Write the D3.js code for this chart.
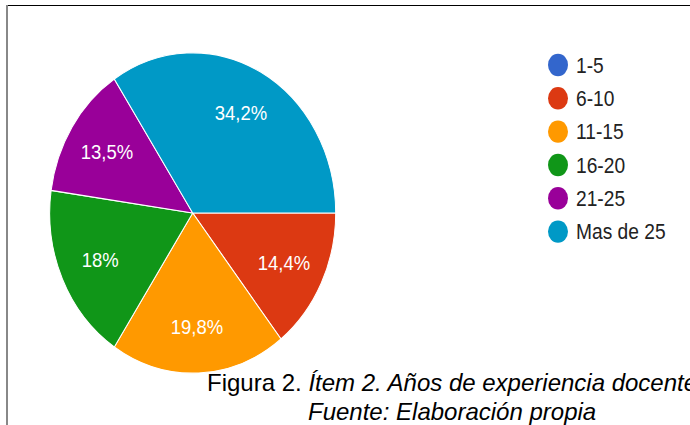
<!DOCTYPE html>
<html>
<head>
<meta charset="utf-8">
<script src="https://cdn.jsdelivr.net/npm/d3@7"></script>
<style>
  html, body { margin: 0; padding: 0; background: #fff; overflow: hidden; }
  text { font-family: Arial, "Liberation Sans", sans-serif; }
</style>
</head>
<body>
<svg id="chart" width="690" height="425"></svg>
<script>
var categories = ["1-5", "6-10", "11-15", "16-20", "21-25", "Mas de 25"];
var values = [0, 14.4, 19.8, 18, 13.5, 34.2];
var labels = ["", "14,4%", "19,8%", "18%", "13,5%", "34,2%"];
var colors = ["#3366cc", "#dc3912", "#ff9900", "#109618", "#990099", "#0099c6"];
var captionLine1 = "Figura 2. ";
var captionLine1Italic = "Ítem 2. Años de experiencia docente";
var captionLine2 = "Fuente: Elaboración propia";

function drawPie() {
    var width = 690, height = 425,
        stretch = 1.12,              // picture is stretched vertically
        radius = 143,
        cx = 192.7, cy = 213 / stretch;

    var svg = d3.select("#chart");

    // frame
    svg.append("line")
        .attr("x1", 6).attr("x2", width)
        .attr("y1", 5.5).attr("y2", 5.5)
        .attr("stroke", "#000").attr("stroke-width", 1.2);
    svg.append("line")
        .attr("x1", 7).attr("x2", 7)
        .attr("y1", 5).attr("y2", height)
        .attr("stroke", "#888").attr("stroke-width", 2);

    var g = svg.append("g")
        .attr("transform", "scale(1," + stretch + ")");

    var data = categories.map(function(c, i) {
        return {name: c, value: values[i], label: labels[i], color: colors[i]};
    });

    var pie = d3.pie()
        .sort(null)
        .value(function(d) { return d.value; })
        .startAngle(Math.PI / 2)
        .endAngle(Math.PI / 2 + 2 * Math.PI);

    var arc = d3.arc().innerRadius(0).outerRadius(radius);
    var labelArc = d3.arc().innerRadius(radius * 0.71).outerRadius(radius * 0.71);

    var pieG = g.append("g")
        .attr("transform", "translate(" + cx + "," + cy + ")");

    var arcs = pie(data).filter(function(d) { return d.data.value > 0; });

    pieG.selectAll(".slice")
            .data(arcs)
        .enter().append("path")
            .attr("class", "slice")
            .attr("d", arc)
            .attr("fill", function(d) { return d.data.color; })
            .attr("stroke", "#fff")
            .attr("stroke-width", 1);

    pieG.selectAll(".lbl")
            .data(arcs)
        .enter().append("text")
            .attr("class", "lbl")
            .attr("transform", function(d) { return "translate(" + labelArc.centroid(d) + ")"; })
            .attr("dy", "0.36em")
            .attr("text-anchor", "middle")
            .attr("fill", "#fff")
            .style("font-size", "18.5px")
            .text(function(d) { return d.data.label; });

    // legend
    var legendY = d3.scaleBand()
        .domain(categories)
        .range([65 / stretch - 29.75 / 2, 65 / stretch - 29.75 / 2 + 29.75 * categories.length]);

    var legend = g.selectAll(".legend")
            .data(data)
        .enter().append("g")
            .attr("class", "legend")
            .attr("transform", function(d) {
                return "translate(558," + (legendY(d.name) + legendY.bandwidth() / 2) + ")";
            });

    legend.append("circle")
        .attr("r", 10)
        .attr("fill", function(d) { return d.color; });

    legend.append("text")
        .attr("x", 18)
        .attr("dy", "0.36em")
        .attr("fill", "#222")
        .style("font-size", "19.2px")
        .text(function(d) { return d.name; });

    // caption (not stretched)
    var cap = svg.append("text")
        .attr("x", 207)
        .attr("y", 391)
        .attr("fill", "#000")
        .style("font-size", "24px");
    cap.append("tspan").text(captionLine1);
    cap.append("tspan").style("font-style", "italic").text(captionLine1Italic);

    svg.append("text")
        .attr("x", 308)
        .attr("y", 420)
        .attr("fill", "#000")
        .style("font-size", "24px")
        .style("font-style", "italic")
        .text(captionLine2);
}

drawPie();
</script>
</body>
</html>
